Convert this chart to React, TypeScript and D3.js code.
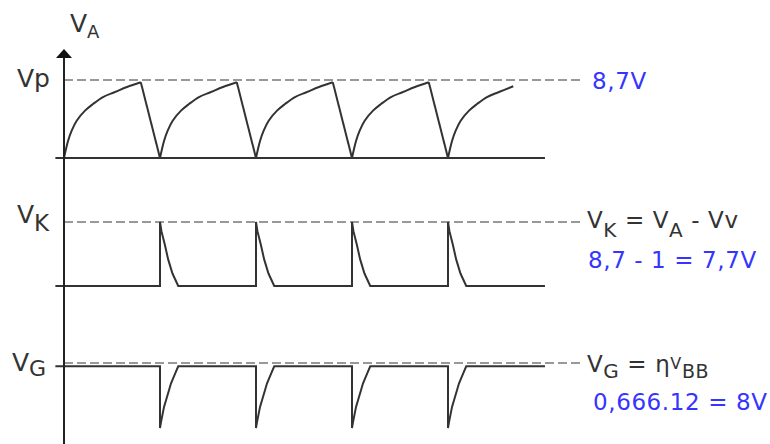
import React from 'react'
import * as d3 from 'd3'

// time axis: one relaxation cycle = 10 units
const cycleStarts = [0, 10, 20, 30, 40]
const cycleLength = 10
const tStart = -0.9
const tEnd = 50.1
const guideEnd = 54.1

// VA charging arc (t offset in cycle, volts)
const chargeT = [0, 0.42, 0.8, 1.32, 2.19, 3.02, 4.06, 5.31, 6.56, 8.0]
const chargeV = [0, 1.9, 3.05, 4.16, 5.28, 6.02, 6.8, 7.36, 7.92, 8.45]
// last arc is cut off before the peak
const lastChargeT = [0, 0.42, 0.8, 1.32, 2.19, 3.02, 4.06, 5.31, 6.8]
const lastChargeV = [0, 1.9, 3.05, 4.16, 5.28, 6.02, 6.8, 7.36, 8.0]

// VK pulse shape
const pulseStarts = [10, 20, 30, 40]
const kPulseT = [0, 0, 0.15, 0.5, 0.85, 1.3, 1.9]
const kPulseV = [0, 7.7, 6.6, 5.0, 3.2, 1.5, 0]

// VG dip shape
const gLevel = 7.6
const gPulseT = [0, 0, 0.1, 0.42, 1.15, 1.65, 1.9]
const gPulseV = [7.6, 0, 0.7, 2.6, 5.5, 6.9, 7.6]

const vp = 8.7
const vk = 7.7
const vg = 8

const W = 770
const H = 444

const lineColor = '#333'
const guideColor = '#999'
const textColor = '#333'
const blue = '#3535ff'
const font = 'DejaVu Sans'

type Pt = [number, number]

export default function App() {
    const x = d3.scaleLinear().domain([0, 50]).range([64, 544])
    const yA = d3.scaleLinear().domain([0, vp]).range([158, 80])
    const yK = d3.scaleLinear().domain([0, vk]).range([286, 222])
    const yG = d3.scaleLinear().domain([0, vg]).range([428, 363])

    // VA: a smooth charging arc per cycle, then a straight discharge
    let arcs: Pt[][] = []
    let falls: Pt[][] = []
    cycleStarts.forEach((c, i) => {
        if (i < cycleStarts.length - 1) {
            let arc: Pt[] = chargeT.map((t, j) => [c + t, chargeV[j]])
            arcs.push(arc)
            falls.push([arc[arc.length - 1], [c + cycleLength, 0]])
        } else {
            arcs.push(lastChargeT.map((t, j) => [c + t, lastChargeV[j]]))
        }
    })

    let kPts: Pt[] = [[tStart, 0]]
    pulseStarts.forEach(p => {
        kPulseT.forEach((t, j) => kPts.push([p + t, kPulseV[j]]))
    })
    kPts.push([tEnd, 0])

    let gPts: Pt[] = [[tStart, gLevel]]
    pulseStarts.forEach(p => {
        gPulseT.forEach((t, j) => gPts.push([p + t, gPulseV[j]]))
    })
    gPts.push([tEnd, gLevel])

    const arcLine = d3.line<Pt>().x(d => x(d[0])).y(d => yA(d[1])).curve(d3.curveCatmullRom.alpha(0.5))
    const lineA = d3.line<Pt>().x(d => x(d[0])).y(d => yA(d[1]))
    const lineK = d3.line<Pt>().x(d => x(d[0])).y(d => yK(d[1]))
    const lineG = d3.line<Pt>().x(d => x(d[0])).y(d => yG(d[1]))

    const x0 = x(0)

    return (
        <svg width={W} height={H} style={{position: 'absolute', left: 0, top: 0, background: '#fff'}}>
            {/* dashed guides */}
            <line x1={x(0)} x2={x(guideEnd)} y1={yA(vp)} y2={yA(vp)} stroke={guideColor} strokeWidth={2} strokeDasharray="9 4" />
            <line x1={x(0)} x2={x(guideEnd)} y1={yK(vk)} y2={yK(vk)} stroke={guideColor} strokeWidth={2} strokeDasharray="9 4" />
            <line x1={x(0)} x2={x(guideEnd)} y1={yG(vg)} y2={yG(vg)} stroke={guideColor} strokeWidth={2} strokeDasharray="9 4" />

            {/* VA baseline */}
            <line x1={x(tStart)} x2={x(tEnd)} y1={yA(0)} y2={yA(0)} stroke={lineColor} strokeWidth={2} />

            {/* waveforms */}
            {arcs.map((a, i) => (
                <path key={'arc' + i} d={arcLine(a) || ''} fill="none" stroke={lineColor} strokeWidth={2} />
            ))}
            {falls.map((f, i) => (
                <path key={'fall' + i} d={lineA(f) || ''} fill="none" stroke={lineColor} strokeWidth={2} strokeLinejoin="round" />
            ))}
            <path d={lineK(kPts) || ''} fill="none" stroke={lineColor} strokeWidth={2} />
            <path d={lineG(gPts) || ''} fill="none" stroke={lineColor} strokeWidth={2} />

            {/* vertical axis with arrow */}
            <line x1={x0} x2={x0} y1={56} y2={H} stroke="#222" strokeWidth={2} />
            <polygon points={`${x0},49 ${x0 + 8},58 ${x0 - 8},58`} fill="#111" />

            {/* left labels */}
            <g fontFamily={font} fill={textColor}>
                <text x={70} y={32} fontSize={25}>V<tspan fontSize={18} dy={6}>A</tspan></text>
                <text x={17} y={87} fontSize={25}>Vp</text>
                <text x={17} y={223} fontSize={25}>V<tspan fontSize={23} dy={8}>K</tspan></text>
                <text x={12} y={371} fontSize={25}>V<tspan fontSize={22} dy={5}>G</tspan></text>
            </g>

            {/* right annotations */}
            <g fontFamily={font} fontSize={23} letterSpacing={0.6}>
                <text x={592} y={89} fill={blue}>8,7V</text>
                <text x={587} y={228} fill={textColor}>
                    V<tspan fontSize={20} dy={9}>K</tspan>
                    <tspan dy={-9}> = V</tspan>
                    <tspan fontSize={20} dy={9}>A</tspan>
                    <tspan dy={-9}> - Vv</tspan>
                </text>
                <text x={588} y={268} fill={blue}>8,7 - 1 = 7,7V</text>
                <text x={587} y={372} fill={textColor}>
                    V<tspan fontSize={20} dy={6}>G</tspan>
                    <tspan dy={-6}> =  η</tspan>
                    <tspan fontSize={16} dy={-3}>V</tspan>
                    <tspan fontSize={19} dy={9}>BB</tspan>
                </text>
                <text x={593} y={410} fill={blue}>0,666.12 = 8V</text>
            </g>
        </svg>
    )
}
